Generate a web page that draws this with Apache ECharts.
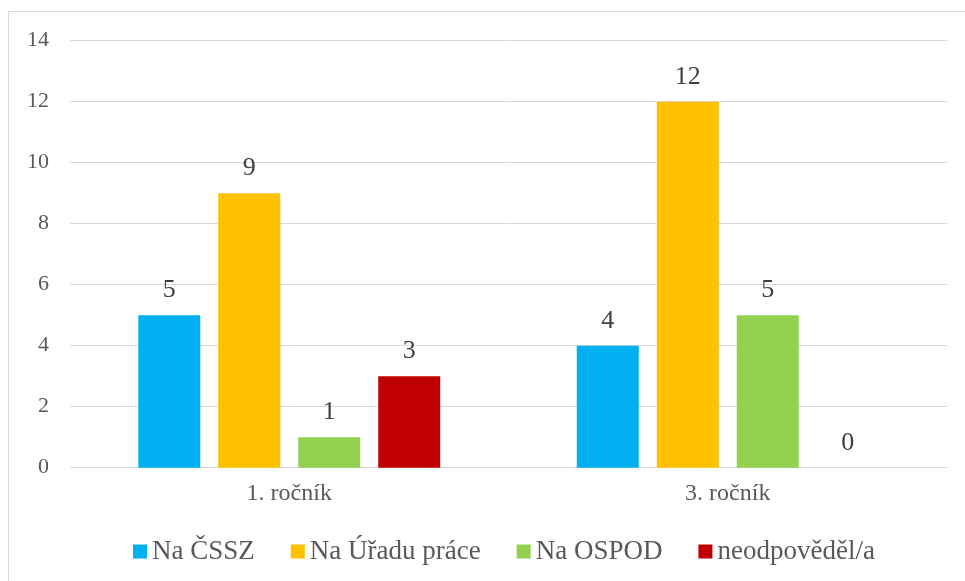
<!DOCTYPE html>
<html>
<head>
<meta charset="utf-8">
<script src="https://cdn.jsdelivr.net/npm/echarts@6/dist/echarts.min.js"></script>
<style>
html, body { margin: 0; padding: 0; background: #fff; }
#chart { width: 965px; height: 581px; }
</style>
</head>
<body>
<div id="chart"></div>
<script>
const categories = ['1. ročník', '3. ročník'];
const seriesNames = ['Na ČSSZ', 'Na Úřadu práce', 'Na OSPOD', 'neodpověděl/a'];
const cssz = [5, 4];
const uradPrace = [9, 12];
const ospod = [1, 5];
const neodpovedel = [3, 0];
const colors = ['#00B0F0', '#FFC000', '#92D050', '#C00000'];

const font = '"Liberation Serif", "Times New Roman", serif';
const values = [cssz, uradPrace, ospod, neodpovedel];

let myChart = echarts.init(document.getElementById('chart'));

let option = {
    animation: false,
    textStyle: { fontFamily: font, color: '#595959' },
    graphic: [{
        type: 'rect',
        shape: { x: 8.5, y: 11.5, width: 970, height: 590 },
        style: { fill: 'none', stroke: '#d9d9d9', lineWidth: 1 },
        silent: true
    }],
    grid: { left: 70, right: 18, top: 40.7, bottom: 113.3 },
    legend: {
        top: 533,
        left: 128,
        icon: 'rect',
        itemWidth: 14,
        itemHeight: 14,
        itemGap: 36,
        textStyle: { fontFamily: font, fontSize: 27, color: '#595959' },
        data: seriesNames
    },
    xAxis: {
        type: 'category',
        data: categories,
        axisLine: { lineStyle: { color: '#d9d9d9', width: 1 } },
        axisTick: { show: false },
        axisLabel: { fontFamily: font, fontSize: 24, color: '#595959', margin: 14 }
    },
    yAxis: {
        type: 'value',
        min: 0,
        max: 14,
        interval: 2,
        axisLine: { show: false },
        axisTick: { show: false },
        splitLine: { lineStyle: { color: '#d9d9d9', width: 1 } },
        axisLabel: { fontFamily: font, fontSize: 22, color: '#595959', margin: 21 }
    },
    series: seriesNames.map((name, i) => ({
        name: name,
        type: 'bar',
        data: values[i],
        barWidth: 62,
        barGap: '29%',
        itemStyle: { color: colors[i] },
        label: {
            show: true,
            position: 'top',
            distance: 12,
            fontFamily: font,
            fontSize: 26,
            color: '#404040'
        }
    }))
};

myChart.setOption(option);
window.addEventListener('resize', function () {
    myChart.resize();
});
</script>
</body>
</html>
